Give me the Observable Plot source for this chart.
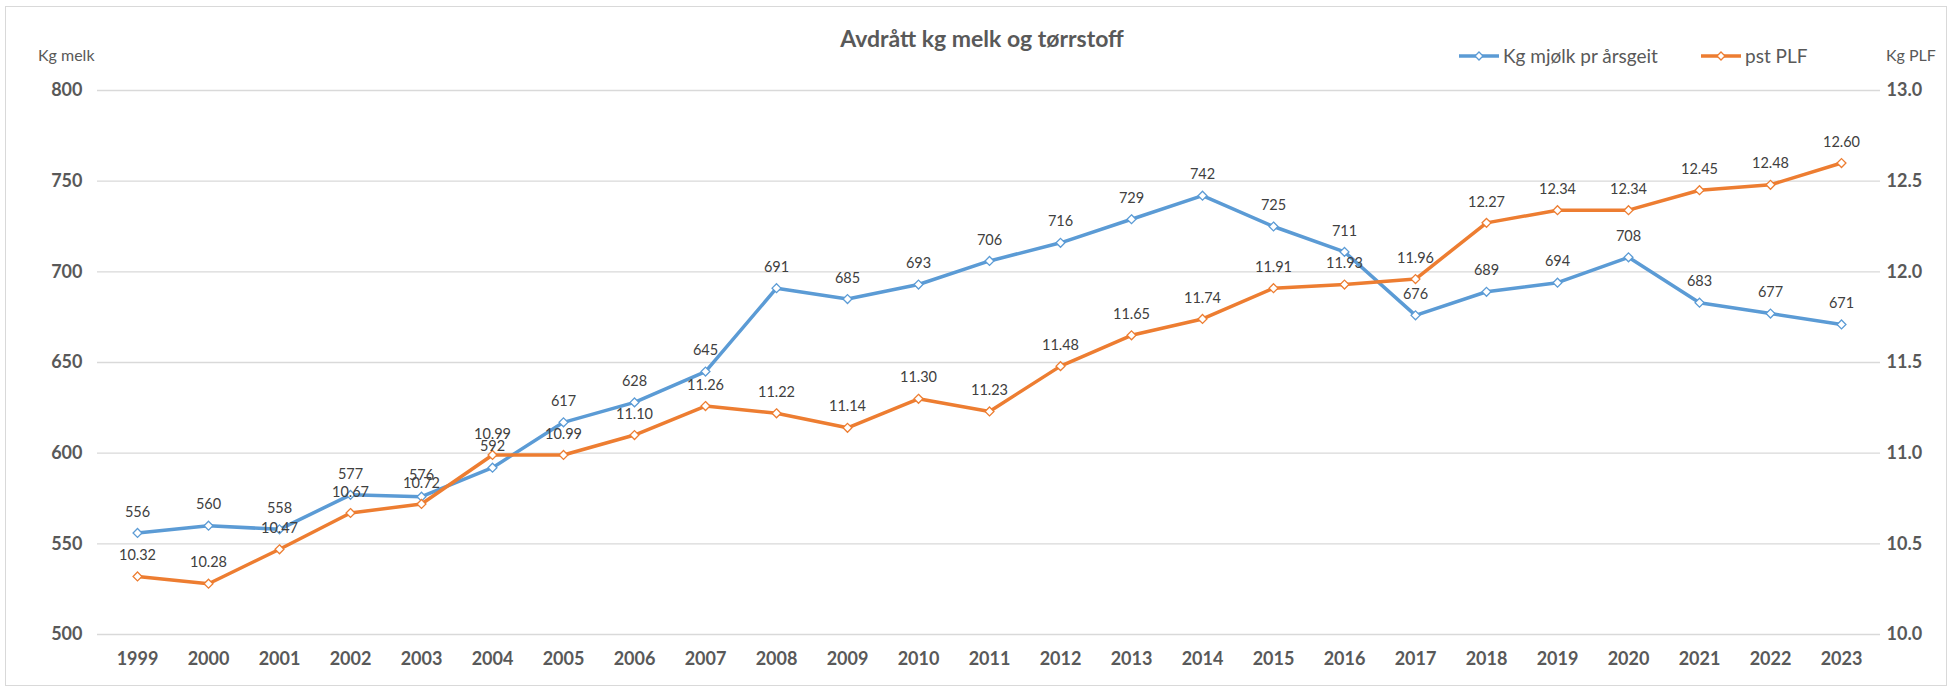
<!DOCTYPE html>
<html>
<head>
<meta charset="utf-8">
<script src="https://cdn.jsdelivr.net/npm/d3@7"></script>
<script src="https://cdn.jsdelivr.net/npm/@observablehq/plot@0.6"></script>
<style>
  body { margin: 0; background: #fff; font-family: Lato, "Open Sans", sans-serif; }
  #wrap { position: relative; width: 1952px; height: 690px; overflow: hidden; }
  #frame { position: absolute; left: 5px; top: 6px; width: 1942px; height: 680px; border: 1px solid #d9d9d9; box-sizing: border-box; }
  #title { position: absolute; left: 0; width: 1964px; top: 24px; text-align: center; font-weight: bold; font-size: 23px; color: #595959; }
  .axt { position: absolute; top: 45px; font-size: 16px; color: #595959; }
  .li { position: absolute; top: 44px; display: flex; align-items: center; font-size: 19px; color: #595959; }
  .li svg { margin-right: 4px; }
  #chart { position: absolute; left: 0; top: 70px; }
</style>
</head>
<body>
<div id="wrap">
  <div id="frame"></div>
  <div id="title">Avdrått kg melk og tørrstoff</div>
  <div class="axt" style="left:38px">Kg melk</div>
  <div class="axt" style="left:1886px">Kg PLF</div>
  <div id="legend"></div>
  <div id="chart"></div>
</div>
<script>
const years = ["1999","2000","2001","2002","2003","2004","2005","2006","2007","2008","2009","2010","2011","2012","2013","2014","2015","2016","2017","2018","2019","2020","2021","2022","2023"];
const milk = [556,560,558,577,576,592,617,628,645,691,685,693,706,716,729,742,725,711,676,689,694,708,683,677,671];
const plf = [10.32,10.28,10.47,10.67,10.72,10.99,10.99,11.10,11.26,11.22,11.14,11.30,11.23,11.48,11.65,11.74,11.91,11.93,11.96,12.27,12.34,12.34,12.45,12.48,12.60];
const leftTicks = [500,550,600,650,700,750,800];
const seriesNames = ["Kg mjølk pr årsgeit","pst PLF"];
const colors = ["#5B9BD5","#ED7D31"];

const toLeft = v => 500 + (v - 10) * 100;
const data = years.map((y, i) => ({year: y, milk: milk[i], plf: plf[i], plfY: toLeft(plf[i])}));

const chart = Plot.plot({
  width: 1952, height: 620,
  marginLeft: 97, marginRight: 72, marginTop: 20, marginBottom: 56,
  style: {fontFamily: "Lato, 'Open Sans', sans-serif", background: "transparent", overflow: "visible"},
  x: {type: "point", domain: years, padding: 0.5},
  y: {domain: [500, 800]},
  marks: [
    Plot.gridY(leftTicks, {stroke: "#d9d9d9", strokeOpacity: 1, strokeWidth: 1.3}),
    Plot.axisY(leftTicks, {anchor: "left", tickSize: 0, tickPadding: 15, fontSize: 18, fontWeight: "bold", color: "#595959", label: null}),
    Plot.axisY(leftTicks, {anchor: "right", tickSize: 0, tickPadding: 6, fontSize: 18, fontWeight: "bold", color: "#595959", label: null,
      tickFormat: d => (10 + (d - 500) / 100).toFixed(1)}),
    Plot.axisX({tickSize: 0, tickPadding: 18, fontSize: 18, fontWeight: "bold", color: "#595959", label: null}),
    Plot.line(data, {x: "year", y: "milk", stroke: colors[0], strokeWidth: 3.5}),
    Plot.dot(data, {x: "year", y: "milk", symbol: "diamond2", r: 4, stroke: colors[0], fill: "white", strokeWidth: 1.3}),
    Plot.line(data, {x: "year", y: "plfY", stroke: colors[1], strokeWidth: 3.5}),
    Plot.dot(data, {x: "year", y: "plfY", symbol: "diamond2", r: 4, stroke: colors[1], fill: "white", strokeWidth: 1.3}),
    Plot.text(data, {x: "year", y: "milk", text: d => String(d.milk), dy: -21, fontSize: 14.5, fill: "#404040"}),
    Plot.text(data, {x: "year", y: "plfY", text: d => d.plf.toFixed(2), dy: -21, fontSize: 14.5, fill: "#404040"})
  ]
});
document.getElementById("chart").appendChild(chart);

const legend = document.getElementById("legend");
const legendX = [1459, 1701];
seriesNames.forEach((name, i) => {
  const item = document.createElement("div");
  item.className = "li";
  item.style.left = legendX[i] + "px";
  item.innerHTML = `<svg width="40" height="12"><line x1="0" x2="40" y1="6" y2="6" stroke="${colors[i]}" stroke-width="3.5"/><path d="M20,2 L24,6 L20,10 L16,6 Z" fill="white" stroke="${colors[i]}" stroke-width="1.3"/></svg><span>${name}</span>`;
  legend.appendChild(item);
});
</script>
</body>
</html>
